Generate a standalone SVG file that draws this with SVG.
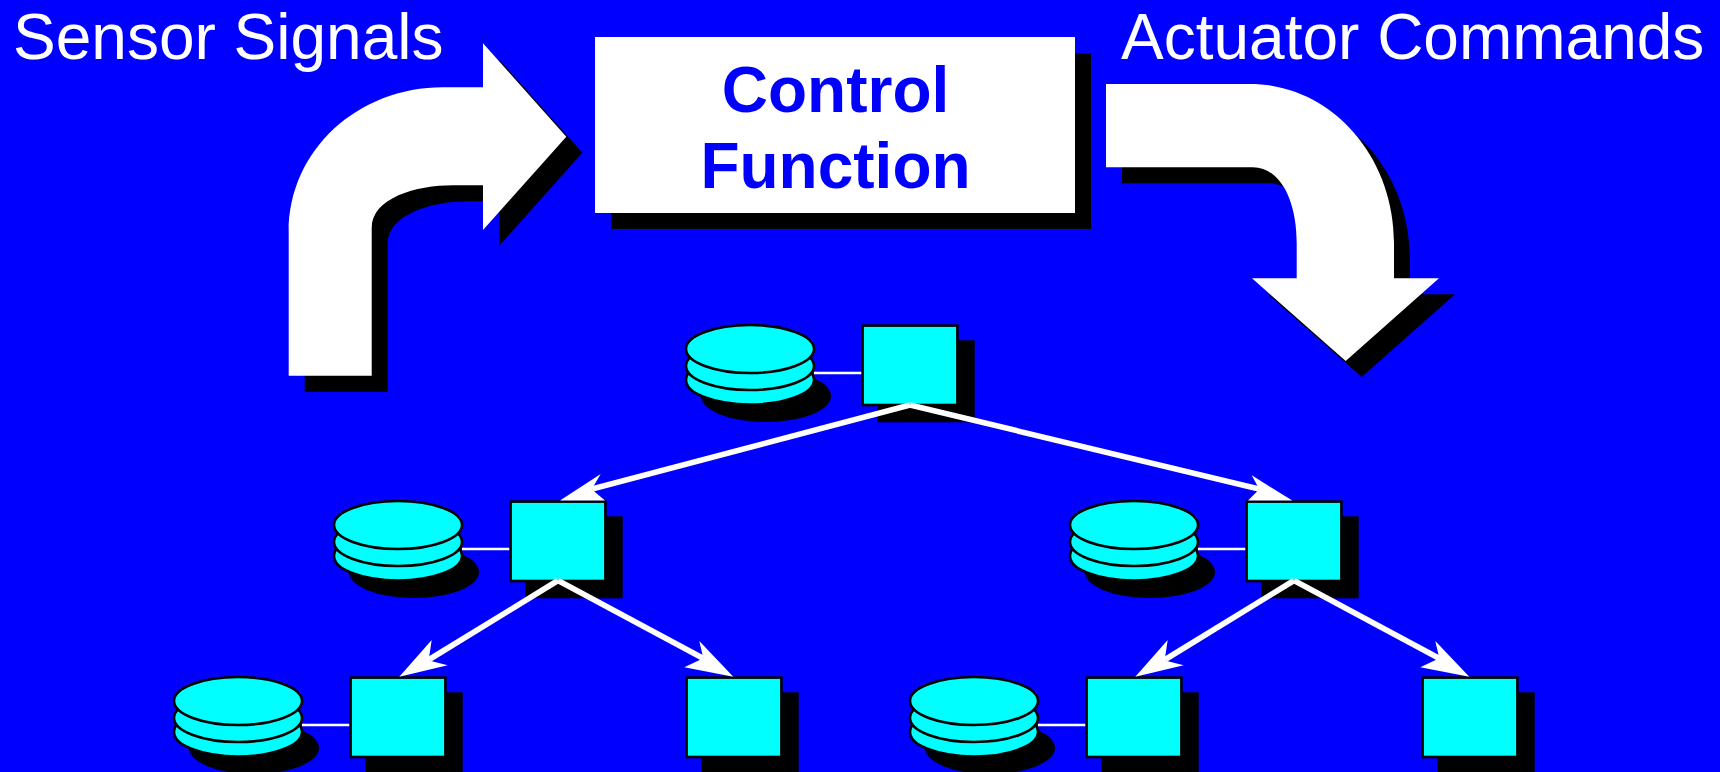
<svg xmlns="http://www.w3.org/2000/svg" width="1720" height="772" viewBox="0 0 1720 772">
<defs>
<style>
.shadow{fill:#000}
.big{fill:#fff}
.node{fill:#0ff;stroke:#000;stroke-width:2.6}
.link{stroke:#fff;stroke-width:2.6;fill:none}
.edge{stroke:#fff;stroke-width:5.6;fill:none}
.head{fill:#fff}
text{font-family:"Liberation Sans",Arial,sans-serif}
.lab{fill:#fff;font-size:64px}
.title{fill:#0000ff;font-size:64px;font-weight:bold;text-anchor:middle}
</style>
<g id="cyl">
<ellipse class="shadow" cx="82" cy="47" rx="65" ry="26"/>
<ellipse class="node" cx="66" cy="31" rx="64" ry="24.500"/>
<ellipse class="node" cx="66" cy="17" rx="64" ry="24"/>
<ellipse class="node" cx="66" cy="0" rx="64" ry="24"/>
<line class="link" x1="130" y1="24" x2="178" y2="24"/>
</g>
<g id="sq">
<rect class="shadow" x="16" y="16" width="97.4" height="82"/>
<rect class="node" x="1.3" y="1.3" width="94.8" height="79.4"/>
</g>
</defs>
<rect id="background" width="1720" height="772" fill="#0000ff"/>
<g id="label-sensor"><text class="lab" x="13" y="59">Sensor Signals</text></g>
<g id="label-actuator"><text class="lab" x="1121" y="59">Actuator Commands</text></g>
<g id="arrow-in">
<path class="shadow" transform="translate(16 16)" d="M288.700 375.700V232C288.700 150 358 87.300 443 87.300H483V43.300L566.300 136.700L483 230V185.300H453C416 185.300 371.700 198 371.700 228V375.700Z"/>
<path class="big" d="M288.700 375.700V232C288.700 150 358 87.300 443 87.300H483V43.300L566.300 136.700L483 230V185.300H453C416 185.300 371.700 198 371.700 228V375.700Z"/>
</g>
<g id="control-function">
<rect class="shadow" x="611" y="53" width="480" height="176"/>
<rect class="big" x="595" y="37" width="480" height="176"/>
<text class="title" x="835.500" y="112">Control</text>
<text class="title" x="835.500" y="188">Function</text>
</g>
<g id="arrow-out">
<path class="shadow" transform="translate(16 16)" d="M1106 84H1250C1330 84 1394 155 1394 243V278.300H1439L1345.700 361L1252 278.300H1296.700V243C1296.700 200 1280 167.300 1253 167.300H1106Z"/>
<path class="big" d="M1106 84H1250C1330 84 1394 155 1394 243V278.300H1439L1345.700 361L1252 278.300H1296.700V243C1296.700 200 1280 167.300 1253 167.300H1106Z"/>
</g>
<g id="db-1"><use href="#cyl" x="684" y="349"/></g>
<g id="node-1"><use href="#sq" x="861.300" y="324.300"/></g>
<g id="db-2"><use href="#cyl" x="332" y="525"/></g>
<g id="node-2"><use href="#sq" x="509.300" y="500.300"/></g>
<g id="db-3"><use href="#cyl" x="1068" y="525"/></g>
<g id="node-3"><use href="#sq" x="1245.300" y="500.300"/></g>
<g id="db-4"><use href="#cyl" x="172" y="701"/></g>
<g id="node-4"><use href="#sq" x="349.300" y="676.300"/></g>
<g id="node-5"><use href="#sq" x="685.300" y="676.300"/></g>
<g id="db-5"><use href="#cyl" x="908" y="701"/></g>
<g id="node-6"><use href="#sq" x="1085.300" y="676.300"/></g>
<g id="node-7"><use href="#sq" x="1421.300" y="676.300"/></g>
<g id="connectors">
<line class="edge" x1="910" y1="405" x2="592" y2="489"/>
<polygon class="head" points="560,500.500 600.700,474 591.700,489.300 605,500.500"/>
<line class="edge" x1="910" y1="405" x2="1259" y2="489"/>
<polygon class="head" points="1292.300,500.500 1251.700,475.300 1259.300,489.300 1248,500.500"/>
<line class="edge" x1="558" y1="580.500" x2="430" y2="659"/>
<polygon class="head" points="399.300,676.700 431.700,640 429.300,656 431,661 447.700,665.300"/>
<line class="edge" x1="558" y1="580.500" x2="703" y2="658.300"/>
<polygon class="head" points="733.300,676.700 699.300,641 703.300,658.300 684.300,667.300"/>
<line class="edge" x1="1294" y1="580.500" x2="1166" y2="659"/>
<polygon class="head" points="1135.300,676.700 1167.700,640 1165.300,656 1167,661 1183.700,665.300"/>
<line class="edge" x1="1294" y1="580.500" x2="1439" y2="658.300"/>
<polygon class="head" points="1469.300,676.700 1435.300,641 1439.300,658.300 1420.300,667.300"/>
</g>
</svg>
